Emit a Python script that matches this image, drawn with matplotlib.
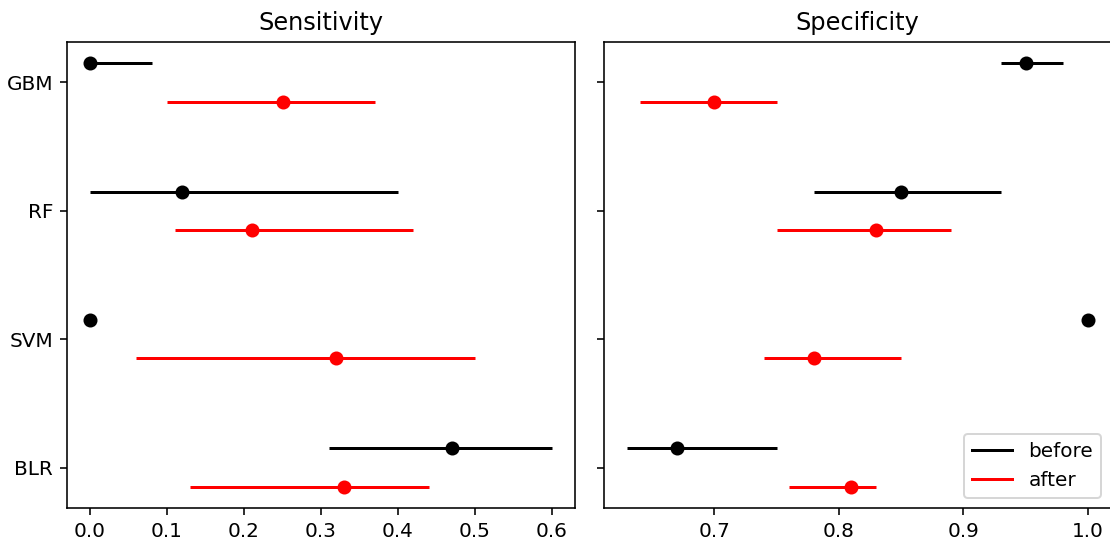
import matplotlib
matplotlib.use("Agg")
import matplotlib.pyplot as plt
from matplotlib.lines import Line2D
from matplotlib.ticker import MultipleLocator
import numpy as np

models = ["GBM", "RF", "SVM", "BLR"]

sens_before = [0.00, 0.12, 0.00, 0.47]
sens_before_lo = [0.00, 0.00, 0.00, 0.31]
sens_before_hi = [0.08, 0.40, 0.00, 0.60]
sens_after = [0.25, 0.21, 0.32, 0.33]
sens_after_lo = [0.10, 0.11, 0.06, 0.13]
sens_after_hi = [0.37, 0.42, 0.50, 0.44]

spec_before = [0.95, 0.85, 1.00, 0.67]
spec_before_lo = [0.93, 0.78, 1.00, 0.63]
spec_before_hi = [0.98, 0.93, 1.00, 0.75]
spec_after = [0.70, 0.83, 0.78, 0.81]
spec_after_lo = [0.64, 0.75, 0.74, 0.76]
spec_after_hi = [0.75, 0.89, 0.85, 0.83]

DPI = 144
fig = plt.figure(figsize=(1110/DPI, 542/DPI), dpi=DPI)
ax1 = fig.add_axes([67/1110, 1-508/542, 508/1110, 466/542])
ax2 = fig.add_axes([604/1110, 1-508/542, 507/1110, 466/542], sharey=ax1)

ypos = np.arange(len(models))[::-1].astype(float)
off = 0.15

def draw(ax, b, blo, bhi, a, alo, ahi):
    b = np.array(b); a = np.array(a)
    berr = [b - np.array(blo), np.array(bhi) - b]
    aerr = [a - np.array(alo), np.array(ahi) - a]
    ax.errorbar(b, ypos + off, xerr=berr, fmt='o', color='black', ecolor='black',
                elinewidth=1.5, markersize=6, capsize=0)
    ax.errorbar(a, ypos - off, xerr=aerr, fmt='o', color='red', ecolor='red',
                elinewidth=1.5, markersize=6, capsize=0)

draw(ax1, sens_before, sens_before_lo, sens_before_hi, sens_after, sens_after_lo, sens_after_hi)
draw(ax2, spec_before, spec_before_lo, spec_before_hi, spec_after, spec_after_lo, spec_after_hi)

ax1.set_yticks(ypos)
ax1.set_yticklabels(models)
plt.setp(ax2.get_yticklabels(), visible=False)
ax2.xaxis.set_major_locator(MultipleLocator(0.1))
ax1.set_title("Sensitivity")
ax2.set_title("Specificity")

handles = [Line2D([0], [0], color='black', lw=1.5), Line2D([0], [0], color='red', lw=1.5)]
ax2.legend(handles, ["before", "after"], loc='lower right')

fig.savefig("out.png", dpi=DPI)
